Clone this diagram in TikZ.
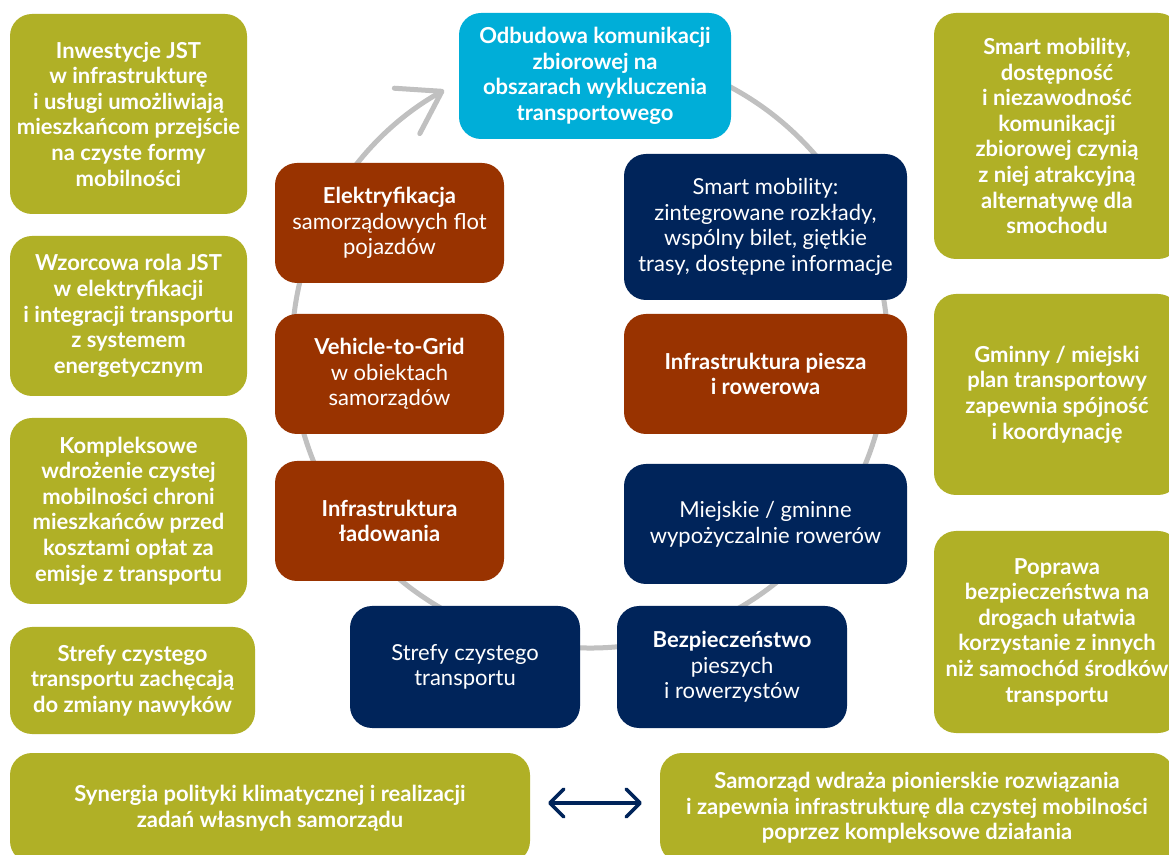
\documentclass[tikz,border=0pt]{standalone}
\usepackage{fontspec}
\setmainfont{Lato}
\usetikzlibrary{arrows.meta}
\definecolor{colOlive}{RGB}{176,176,38}
\definecolor{colNavy}{RGB}{0,36,90}
\definecolor{colRust}{RGB}{153,51,0}
\definecolor{colCyan}{RGB}{0,174,216}
\definecolor{colRing}{RGB}{192,192,192}
\begin{document}
\begin{tikzpicture}[x=1pt,y=1pt,
  box/.style={rounded corners=22pt, align=center, text=white, inner sep=0pt,
    font=\fontsize{22}{25.6}\selectfont},
  obox/.style={box, fill=colOlive, font=\fontsize{22}{25.6}\selectfont\bfseries},
  nbox/.style={box, fill=colNavy},
  rbox/.style={box, fill=colRust},
  cbox/.style={box, fill=colCyan, font=\fontsize{22}{25.6}\selectfont\bfseries},
  ring/.style={draw=colRing, line width=5pt},
  dbl/.style={draw=colNavy, line width=3.5pt,
    {Straight Barb[length=14pt,width=28pt,round]}-{Straight Barb[length=14pt,width=28pt,round]}}
]
\useasboundingbox (0,0) rectangle (1169,854);
\clip (0,0) rectangle (1169,854);
\fill[white] (0,0) rectangle (1169,854);

% ring with arrow
\draw[ring, -{Straight Barb[length=40pt,width=52pt,round]}]
  (641.7,797.5) arc[start angle=80, end angle=-240.7, radius=298];

% left column
\node[obox, minimum width=237pt, minimum height=200pt] (l1) at (128.5,740)
  {Inwestycje JST\\w infrastrukturę\\i usługi umożliwiają\\mieszkańcom przejście\\na czyste formy\\mobilności};
\node[obox, minimum width=237pt, minimum height=160pt] (l2) at (128.5,538)
  {Wzorcowa rola JST\\w elektryfikacji\\i integracji transportu\\z systemem\\energetycznym};
\node[obox, minimum width=237pt, minimum height=186pt] (l3) at (128.5,343)
  {Kompleksowe\\wdrożenie czystej\\mobilności chroni\\mieszkańców przed\\kosztami opłat za\\emisje z transportu};
\node[obox, minimum width=245pt, minimum height=107pt] (l4) at (132.5,173.5)
  {Strefy czystego\\transportu zachęcają\\do zmiany nawyków};

% right column
\node[obox, minimum width=246pt, minimum height=246pt] (r1) at (1057,718)
  {Smart mobility,\\dostępność\\i niezawodność\\komunikacji\\zbiorowej czynią\\z niej atrakcyjną\\alternatywę dla\\smochodu};
\node[obox, minimum width=246pt, minimum height=201pt] (r2) at (1057,459.5)
  {Gminny / miejski\\plan transportowy\\zapewnia spójność\\i koordynację};
\node[obox, minimum width=246pt, minimum height=202pt] (r3) at (1057,222)
  {Poprawa\\bezpieczeństwa na\\drogach ułatwia\\korzystanie z innych\\niż samochód środków\\transportu};

% bottom
\node[obox, minimum width=520pt, minimum height=110pt] (bl) at (270,46)
  {Synergia polityki klimatycznej i realizacji\\zadań własnych samorządu};
\node[obox, minimum width=514pt, minimum height=110pt] (br) at (917,46)
  {Samorząd wdraża pionierskie rozwiązania\\i zapewnia infrastrukturę dla czystej mobilności\\poprzez kompleksowe działania};
\draw[dbl, shorten <=18pt, shorten >=18pt] ([yshift=5pt]bl.east) -- ([yshift=5pt]br.west);

% middle
\node[cbox, minimum width=272pt, minimum height=126pt] (top) at (595,778)
  {Odbudowa komunikacji\\zbiorowej na\\obszarach wykluczenia\\transportowego};
\node[rbox, minimum width=229pt, minimum height=120pt] (e1) at (389.5,631)
  {\textbf{Elektryfikacja}\\samorządowych flot\\pojazdów};
\node[rbox, minimum width=229pt, minimum height=120pt] (e2) at (389.5,480)
  {\textbf{Vehicle-to-Grid}\\w obiektach\\samorządów};
\node[rbox, minimum width=229pt, minimum height=120pt] (e3) at (389.5,333)
  {\textbf{Infrastruktura}\\\textbf{ładowania}};
\node[nbox, minimum width=283pt, minimum height=146pt] (s1) at (765.5,627)
  {Smart mobility:\\zintegrowane rozkłady,\\wspólny bilet, giętkie\\trasy, dostępne informacje};
\node[rbox, minimum width=283pt, minimum height=120pt] (s2) at (765.5,480)
  {\textbf{Infrastruktura piesza}\\\textbf{i rowerowa}};
\node[nbox, minimum width=283pt, minimum height=120pt] (s3) at (765.5,330)
  {Miejskie / gminne\\wypożyczalnie rowerów};
\node[nbox, minimum width=230pt, minimum height=122pt] (b1) at (465,187)
  {Strefy czystego\\transportu};
\node[nbox, minimum width=230pt, minimum height=122pt] (b2) at (732,187)
  {\textbf{Bezpieczeństwo}\\pieszych\\i rowerzystów};
\end{tikzpicture}
\end{document}
